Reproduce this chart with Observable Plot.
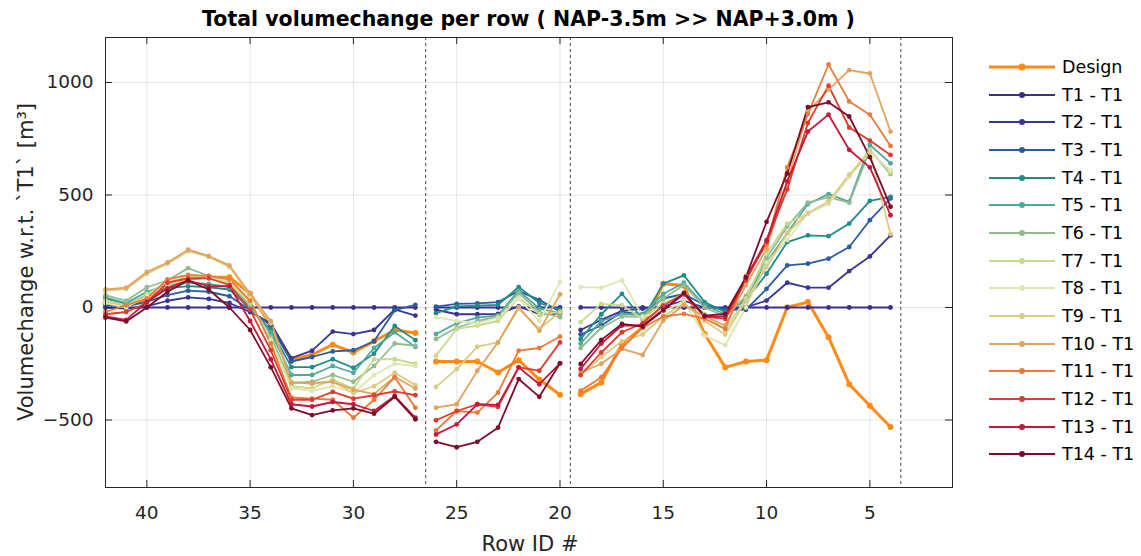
<!DOCTYPE html>
<html>
<head>
<meta charset="utf-8">
<script src="https://cdn.jsdelivr.net/npm/d3@7"></script>
<script src="https://cdn.jsdelivr.net/npm/@observablehq/plot@0.6"></script>
<style>
  html, body { margin: 0; padding: 0; background: #fff; }
  #wrap { position: relative; width: 1141px; height: 556px; font-family: "DejaVu Sans", "Liberation Sans", Arial, sans-serif; color: #262626; }
  #title { position: absolute; left: 105px; width: 847px; top: 7px; text-align: center; font-weight: bold; font-size: 20.5px; color: #000; }
  #ylab { position: absolute; left: 26px; top: 262px; transform: translate(-50%, -50%) rotate(-90deg); white-space: nowrap; font-size: 21px; }
  #xlab { position: absolute; left: 530px; top: 544px; transform: translate(-50%, -50%); white-space: nowrap; font-size: 21px; }
  #legend { position: absolute; left: 989px; top: 53px; }
  .lrow { position: relative; height: 27.7px; width: 150px; }
  .lline { position: absolute; left: 0; width: 66px; top: 50%; transform: translateY(-50%); }
  .ldot { position: absolute; left: 33px; top: 50%; border-radius: 50%; transform: translate(-50%, -50%); }
  .ltext { position: absolute; left: 73px; top: 50%; transform: translateY(-50%); font-size: 17.5px; white-space: nowrap; color: #000; }
</style>
</head>
<body>
<div id="wrap">
  <div id="title">Total volumechange per row ( NAP-3.5m &gt;&gt; NAP+3.0m )</div>
  <div id="ylab">Volumechange w.r.t. `T1` [m³]</div>
  <div id="xlab">Row ID #</div>
  <div id="legend"></div>
</div>
<script>
// Row IDs (x categories), three measured segments
const rows = [42,41,40,39,38,37,36,35,34,33,32,31,30,29,28,27, 26,25,24,23,22,21,20, 19,18,17,16,15,14,13,12,11,10,9,8,7,6,5,4];
const dividers = [26.5, 19.5, 3.5];
const xTicks = [40,35,30,25,20,15,10,5];
const yTicks = [-500,0,500,1000];

const seriesNames = ["Design","T1 - T1","T2 - T1","T3 - T1","T4 - T1","T5 - T1","T6 - T1","T7 - T1","T8 - T1","T9 - T1","T10 - T1","T11 - T1","T12 - T1","T13 - T1","T14 - T1"];
const seriesColors = ["#ff8a14","#3c2d8e","#3a3592","#2b5ba2","#1f8b8b","#4ea996","#93b993","#c6db8c","#dfe6b2","#dccb82","#e0a45e","#ea7a3a","#df3b2f","#c3193d","#7b0d2b"];

const design = [20,10,30,95,125,135,135,61,-80,-232,-210,-165,-200,-150,-100,-113, -240,-240,-240,-289,-234,-320,-388, -385,-333,-162,-88,106,98,-118,-266,-240,-234,1,24,-132,-341,-437,-531];
const t1  = [0,0,0,0,0,0,0,0,0,0,0,0,0,0,0,0, 0,0,0,0,0,0,0, 0,0,0,0,0,0,0,0,0,0,0,0,0,0,0,0];
const t2  = [0,-5,5,30,45,38,20,-20,-70,-225,-192,-107,-118,-100,-8,-36, -10,-30,-30,-28,5,-30,-28, -100,-55,-15,-5,5,30,0,-5,0,31,110,88,88,162,227,321];
const t3  = [10,5,25,55,75,70,50,-10,-80,-240,-220,-195,-190,-150,-12,12, 4,16,18,24,73,34,-18, -120,-80,-20,-30,40,60,10,-10,-10,83,187,195,217,269,388,485];
const t4  = [40,15,55,85,95,90,80,-5,-100,-265,-265,-230,-268,-205,-82,-145, -25,5,8,12,91,20,-10, -140,-30,61,-51,106,143,24,-20,30,150,291,321,317,373,474,492];
const t5  = [45,20,70,100,110,105,90,0,-110,-300,-300,-260,-290,-180,-110,-175, -118,-70,-45,-35,75,-5,-25, -160,-60,-30,-30,60,110,10,-30,40,200,330,460,504,470,723,641];
const t6  = [55,30,90,120,175,140,100,10,-130,-335,-330,-300,-330,-260,-160,-170, -140,-90,-60,-40,65,-20,-43, -180,-90,-40,-40,40,100,0,-40,50,220,360,466,490,466,700,593];
const t7  = [30,10,60,110,140,130,110,20,-140,-350,-360,-320,-360,-230,-230,-250, -214,-95,-80,-60,45,-30,-20, -65,16,10,-50,20,60,-30,-100,40,239,373,418,470,589,700,600];
const t8  = [20,0,50,100,130,135,120,30,-150,-360,-370,-350,-380,-300,-250,-260, -43,-60,-70,-45,40,-60,113, 91,88,121,-40,-20,30,-125,-167,0,200,300,418,460,580,690,610];
const t9  = [75,82,150,195,250,225,180,55,-70,-330,-340,-330,-380,-350,-290,-345, -353,-274,-174,-155,-5,-95,-20, -300,-220,-150,-120,-40,20,-60,-120,30,180,330,420,470,590,690,326];
const t10 = [80,88,158,200,257,229,187,61,-60,-335,-335,-330,-365,-385,-308,-360, -445,-430,-281,-155,2,-103,58, -290,-250,-184,-211,-58,10,-40,-80,100,260,560,870,968,1055,1040,782];
const t11 = [-20,10,40,125,145,140,125,30,-160,-400,-405,-410,-490,-410,-310,-445, -546,-460,-467,-378,-192,-180,-129, -370,-310,-180,-90,-40,-28,-50,-95,140,280,623,860,1080,916,857,718];
const t12 = [-30,-20,20,110,130,130,100,-10,-190,-410,-410,-375,-405,-390,-373,-390, -501,-460,-430,-442,-266,-281,-155, -300,-200,-110,-70,9,60,-40,-51,120,291,525,820,986,800,742,678];
const t13 = [-40,-55,25,85,120,95,95,-60,-230,-430,-440,-420,-430,-460,-393,-490, -564,-519,-430,-433,-266,-341,-248, -273,-160,-80,-80,-10,60,-40,-40,130,299,560,782,857,701,623,410];
const t14 = [-45,-62,0,70,120,80,0,-100,-265,-448,-478,-457,-448,-472,-397,-497, -597,-621,-597,-534,-318,-397,-248, -251,-144,-73,-85,-13,65,-36,-28,135,381,596,891,912,849,668,448];

const seriesValues = [design,t1,t2,t3,t4,t5,t6,t7,t8,t9,t10,t11,t12,t13,t14];

const segOf = r => r >= 27 ? 1 : r >= 20 ? 2 : 3;
const data = [];
seriesValues.forEach((vals, si) => {
  vals.forEach((v, i) => {
    data.push({row: rows[i], value: v, series: seriesNames[si], seg: segOf(rows[i]), isDesign: si === 0});
  });
});
const designData = data.filter(d => d.isDesign);
const tData = data.filter(d => !d.isDesign);

const W = 1141, H = 556, ML = 105, MR = 189, MT = 37, MB = 69;
const frameW = W - ML - MR, frameH = H - MT - MB, tickLen = 7;

const chart = Plot.plot({
  width: W,
  height: H,
  marginLeft: ML,
  marginRight: MR,
  marginTop: MT,
  marginBottom: MB,
  style: {fontFamily: "'DejaVu Sans', 'Liberation Sans', Arial, sans-serif", fontSize: "18px", color: "#262626", background: "transparent", overflow: "visible"},
  x: {domain: [42, 1], label: null},
  y: {domain: [-800, 1200], label: null},
  color: {domain: seriesNames, range: seriesColors},
  marks: [
    Plot.gridX(xTicks, {stroke: "#000", strokeOpacity: 0.1}),
    Plot.gridY(yTicks, {stroke: "#000", strokeOpacity: 0.1}),
    Plot.ruleX(dividers, {stroke: "#444", strokeWidth: 1, strokeDasharray: "3,3"}),
    Plot.line(designData, {x: "row", y: "value", z: d => d.series + d.seg, stroke: "series", strokeWidth: 3}),
    Plot.dot(designData, {x: "row", y: "value", fill: "series", r: 3}),
    Plot.line(tData, {x: "row", y: "value", z: d => d.series + d.seg, stroke: "series", strokeWidth: 1.8}),
    Plot.dot(tData, {x: "row", y: "value", fill: "series", r: 2.4}),
    // inward tick marks on all four sides (MATLAB box style)
    Plot.ruleX(xTicks, {stroke: "#262626", insetTop: frameH - tickLen}),
    Plot.ruleX(xTicks, {stroke: "#262626", insetBottom: frameH - tickLen}),
    Plot.ruleY(yTicks, {stroke: "#262626", insetRight: frameW - tickLen}),
    Plot.ruleY(yTicks, {stroke: "#262626", insetLeft: frameW - tickLen}),
    Plot.frame({stroke: "#262626", strokeWidth: 1}),
    Plot.axisX(xTicks, {tickSize: 0, tickPadding: 18, fontSize: 18.5, label: null}),
    Plot.axisY(yTicks, {tickSize: 0, tickPadding: 12, fontSize: 18.5, label: null, tickFormat: d3.format("d")})
  ]
});
document.getElementById("wrap").insertBefore(chart, document.getElementById("title"));
chart.style.position = "absolute";
chart.style.left = "0px";
chart.style.top = "0px";

const legend = document.getElementById("legend");
seriesNames.forEach((name, i) => {
  const row = document.createElement("div");
  row.className = "lrow";
  const line = document.createElement("div");
  line.className = "lline";
  line.style.height = (i === 0 ? 3 : 2) + "px";
  line.style.background = seriesColors[i];
  const dot = document.createElement("div");
  dot.className = "ldot";
  const s = i === 0 ? 7 : 6;
  dot.style.width = s + "px"; dot.style.height = s + "px";
  dot.style.background = seriesColors[i];
  const txt = document.createElement("div");
  txt.className = "ltext";
  txt.textContent = name;
  row.append(line, dot, txt);
  legend.append(row);
});
</script>
</body>
</html>
